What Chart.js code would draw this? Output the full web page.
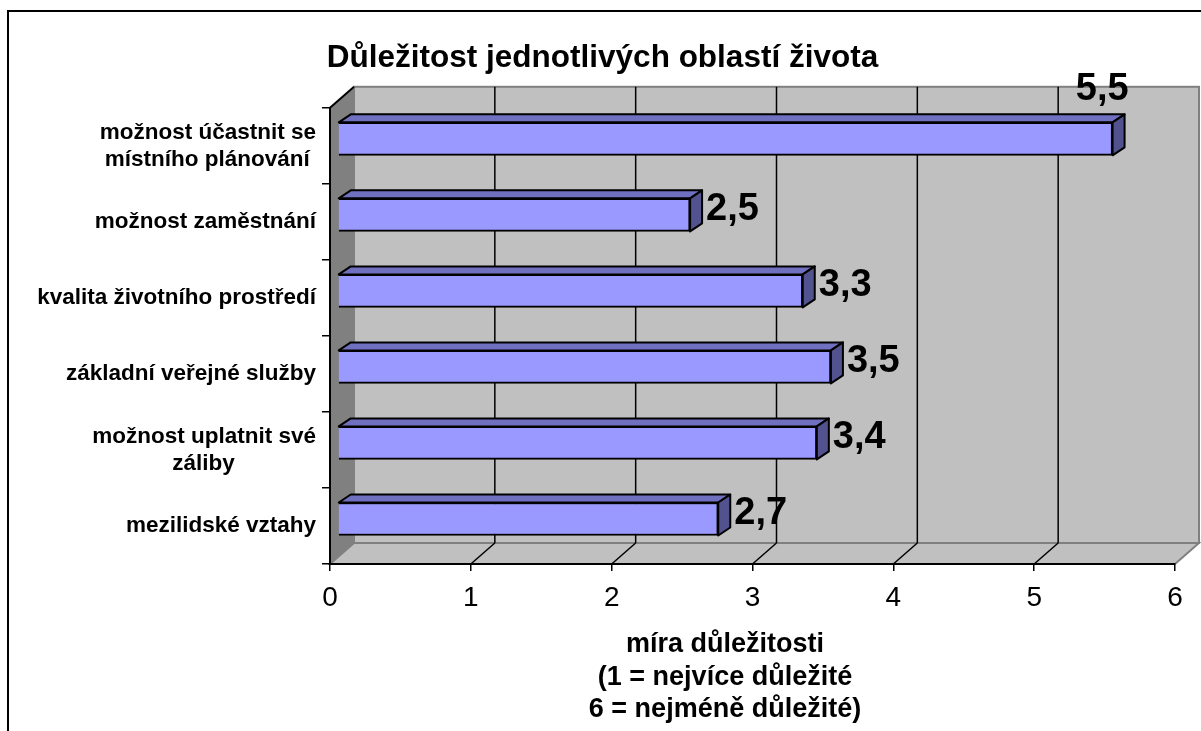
<!DOCTYPE html>
<html>
<head>
<meta charset="utf-8">
<script src="https://cdn.jsdelivr.net/npm/chart.js@4.4.1/dist/chart.umd.min.js"></script>
<style>
  html, body { margin: 0; padding: 0; background: #fff; }
  canvas { display: block; }
</style>
</head>
<body>
<canvas id="myChart" width="1201" height="731"></canvas>
<script>
const chartTitle = 'Důležitost jednotlivých oblastí života';
const categories = [
    ['možnost účastnit se', 'místního plánování'],
    'možnost zaměstnání',
    'kvalita životního prostředí',
    'základní veřejné služby',
    ['možnost uplatnit své', 'záliby'],
    'mezilidské vztahy'
];
const values = [5.5, 2.5, 3.3, 3.5, 3.4, 2.7];
const axisMin = 0;
const axisMax = 6;
const axisStep = 1;
const axisTitleLines = ['míra důležitosti', '(1 = nejvíce důležité', '6 = nejméně důležité)'];

const FONT = '"Liberation Sans", Arial, sans-serif';
Chart.defaults.font.family = FONT;
Chart.defaults.color = '#000';

const LABEL_FONT = 'bold 22.5px ' + FONT;
const DEPTH = { x: 24, y: -21 };     // depth of the 3D plot box
const BAR_SHIFT = { x: 8, y: -7 };   // bars sit a bit back from the front plane
const BAR_DEPTH = { x: 12, y: -8 };

// centre the lines of a two line label inside its right-aligned block
const measureCtx = document.createElement('canvas').getContext('2d');
function centerLines(label) {
    if (!Array.isArray(label)) return label;
    measureCtx.font = LABEL_FONT;
    const widths = label.map(l => measureCtx.measureText(l).width);
    const maxW = Math.max(...widths);
    const spaceW = measureCtx.measureText(' ').width;
    return label.map((l, i) => l + ' '.repeat(Math.round((maxW - widths[i]) / spaceW / 2)));
}

function formatValue(v) {
    return v.toFixed(1).replace('.', ',');
}

const box3d = {
    id: 'box3d',
    beforeDraw(chart) {
        const ctx = chart.ctx;
        const a = chart.chartArea;
        const xs = chart.scales.x;
        const L = a.left, R = a.right, T = a.top, B = a.bottom;
        ctx.save();
        // side wall
        ctx.fillStyle = '#808080';
        ctx.beginPath();
        ctx.moveTo(L, T);
        ctx.lineTo(L + DEPTH.x, T + DEPTH.y);
        ctx.lineTo(L + DEPTH.x, B + DEPTH.y);
        ctx.lineTo(L, B);
        ctx.closePath();
        ctx.fill();
        // back wall
        ctx.fillStyle = '#c0c0c0';
        ctx.strokeStyle = '#808080';
        ctx.lineWidth = 2;
        ctx.fillRect(L + DEPTH.x, T + DEPTH.y, R - L, B - T);
        ctx.strokeRect(L + DEPTH.x, T + DEPTH.y, R - L, B - T);
        // floor
        ctx.beginPath();
        ctx.moveTo(L, B);
        ctx.lineTo(R, B);
        ctx.lineTo(R + DEPTH.x, B + DEPTH.y);
        ctx.lineTo(L + DEPTH.x, B + DEPTH.y);
        ctx.closePath();
        ctx.fill();
        ctx.stroke();
        // top edge of side wall
        ctx.strokeStyle = '#000';
        ctx.beginPath();
        ctx.moveTo(L, T);
        ctx.lineTo(L + DEPTH.x, T + DEPTH.y);
        ctx.stroke();
        // gridlines on back wall and floor
        ctx.lineWidth = 1.5;
        xs.ticks.forEach(t => {
            if (t.value <= axisMin || t.value >= axisMax) return;
            const px = xs.getPixelForValue(t.value);
            ctx.beginPath();
            ctx.moveTo(px + DEPTH.x, T + DEPTH.y);
            ctx.lineTo(px + DEPTH.x, B + DEPTH.y);
            ctx.moveTo(px, B);
            ctx.lineTo(px + DEPTH.x, B + DEPTH.y);
            ctx.stroke();
        });
        ctx.restore();
    },
    beforeDatasetsDraw(chart) {
        chart.ctx.save();
        chart.ctx.translate(BAR_SHIFT.x, BAR_SHIFT.y);
    },
    afterDatasetsDraw(chart) {
        const ctx = chart.ctx;
        const meta = chart.getDatasetMeta(0);
        ctx.lineWidth = 2;
        ctx.strokeStyle = '#000';
        ctx.lineJoin = 'round';
        meta.data.forEach(bar => {
            const { x, y, base, height } = bar.getProps(['x', 'y', 'base', 'height'], true);
            const top = y - height / 2, bottom = y + height / 2;
            // top face
            ctx.fillStyle = '#7070c0';
            ctx.beginPath();
            ctx.moveTo(base, top);
            ctx.lineTo(base + BAR_DEPTH.x, top + BAR_DEPTH.y);
            ctx.lineTo(x + BAR_DEPTH.x, top + BAR_DEPTH.y);
            ctx.lineTo(x, top);
            ctx.closePath();
            ctx.fill();
            ctx.stroke();
            // end face
            ctx.fillStyle = '#52528f';
            ctx.beginPath();
            ctx.moveTo(x, top);
            ctx.lineTo(x + BAR_DEPTH.x, top + BAR_DEPTH.y);
            ctx.lineTo(x + BAR_DEPTH.x, bottom + BAR_DEPTH.y);
            ctx.lineTo(x, bottom);
            ctx.closePath();
            ctx.fill();
            ctx.stroke();
        });
        ctx.restore();

        // value labels
        ctx.save();
        ctx.font = 'bold 38px ' + FONT;
        ctx.fillStyle = '#000';
        ctx.textBaseline = 'middle';
        meta.data.forEach((bar, i) => {
            const text = formatValue(values[i]);
            const w = ctx.measureText(text).width;
            const lx = bar.x + BAR_SHIFT.x + 16;
            const ly = bar.y + BAR_SHIFT.y - 5;
            if (lx + w > chart.chartArea.right) {
                ctx.textAlign = 'right';
                ctx.fillText(text, lx, ly - 44);
            } else {
                ctx.textAlign = 'left';
                ctx.fillText(text, lx, ly);
            }
        });
        ctx.restore();
    },
    afterDraw(chart) {
        const ctx = chart.ctx;
        ctx.save();
        // axis title
        ctx.font = 'bold 27px ' + FONT;
        ctx.fillStyle = '#000';
        ctx.textAlign = 'center';
        ctx.textBaseline = 'alphabetic';
        axisTitleLines.forEach((line, i) => {
            ctx.fillText(line, 725, 652 + i * 32.5);
        });
        // chart border
        ctx.strokeStyle = '#000';
        ctx.lineWidth = 2;
        ctx.strokeRect(8, 11, 1400, 1000);
        ctx.restore();
    }
};

const ctx = document.getElementById('myChart').getContext('2d');
const myChart = new Chart(ctx, {
    type: 'bar',
    data: {
        labels: categories,
        datasets: [{
            data: values,
            backgroundColor: '#9999ff',
            borderColor: '#000',
            borderWidth: 2,
            barThickness: 33,
            clip: false
        }]
    },
    options: {
        indexAxis: 'y',
        responsive: false,
        animation: false,
        layout: { padding: { left: 30, right: 26, top: 0, bottom: 0 } },
        plugins: {
            legend: { display: false },
            tooltip: { enabled: false },
            title: {
                display: true,
                text: chartTitle,
                color: '#000',
                font: { size: 31.5, weight: 'bold' },
                padding: { top: 39, bottom: 31 }
            }
        },
        scales: {
            x: {
                type: 'linear',
                min: axisMin,
                max: axisMax,
                afterFit: s => { s.height = 167; },
                ticks: { stepSize: axisStep, font: { size: 28 }, color: '#000', padding: 10 },
                grid: { drawOnChartArea: false, tickLength: 7, color: '#000', lineWidth: 1.5 },
                border: { color: '#000', width: 2 }
            },
            y: {
                afterFit: s => { s.width = 300; },
                ticks: {
                    font: { size: 22.5, weight: 'bold' },
                    color: '#000',
                    padding: 6,
                    callback: (v, i) => centerLines(categories[i])
                },
                grid: { offset: true, drawOnChartArea: false, tickLength: 8, color: '#000', lineWidth: 1.5 },
                border: { color: '#000', width: 2 }
            }
        }
    },
    plugins: [box3d]
});
</script>
</body>
</html>
